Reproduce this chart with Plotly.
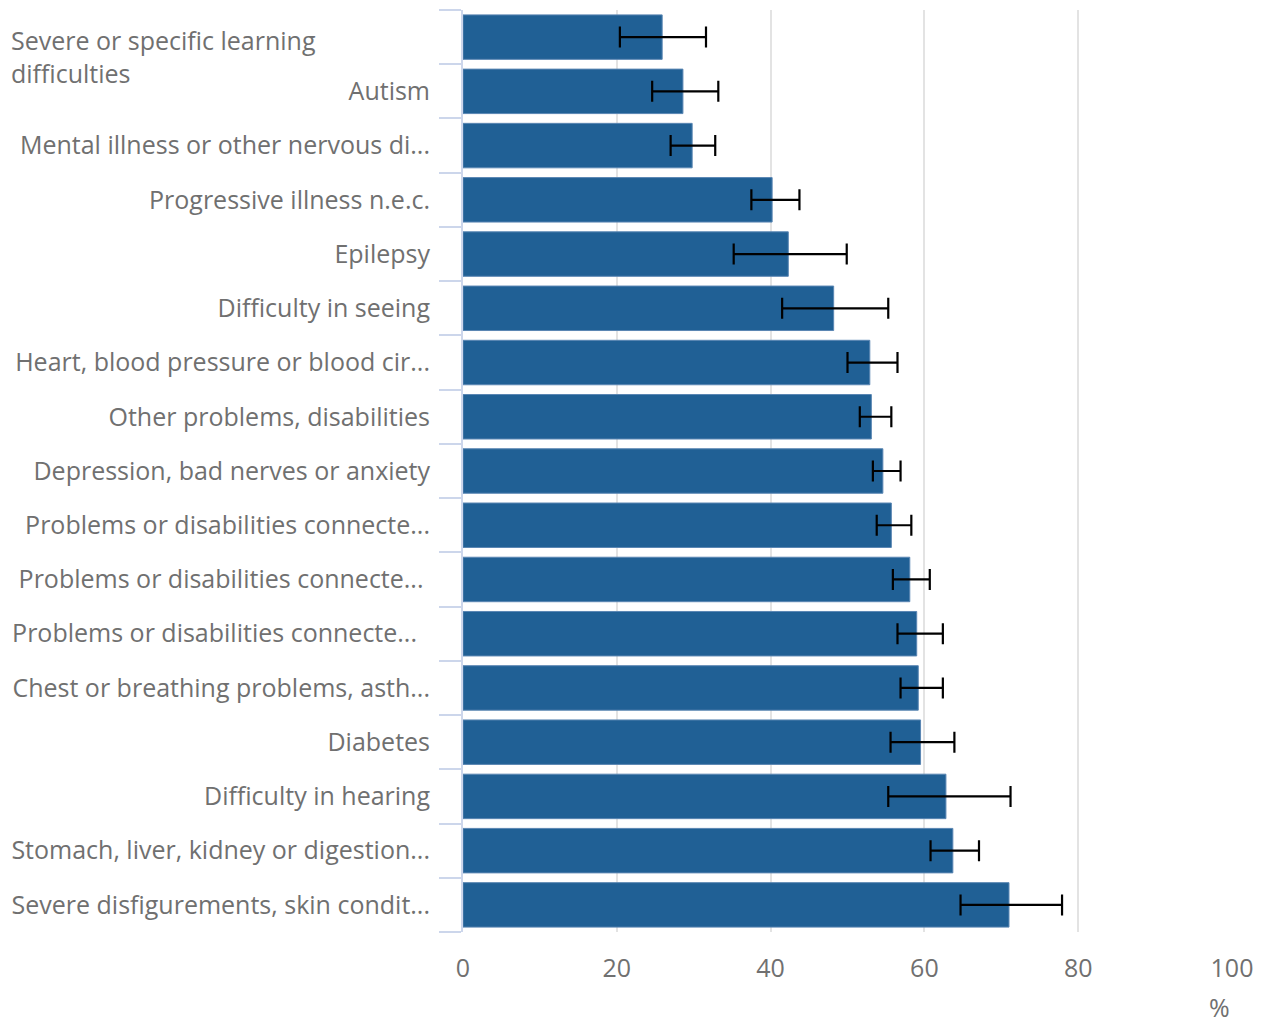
import plotly.graph_objects as go

categories = [
    "Severe or specific learning difficulties",
    "Autism",
    "Mental illness or other nervous di...",
    "Progressive illness n.e.c.",
    "Epilepsy",
    "Difficulty in seeing",
    "Heart, blood pressure or blood cir...",
    "Other problems, disabilities",
    "Depression, bad nerves or anxiety",
    "Problems or disabilities connecte...",
    "Problems or disabilities connecte... ",
    "Problems or disabilities connecte...  ",
    "Chest or breathing problems, asth...",
    "Diabetes",
    "Difficulty in hearing",
    "Stomach, liver, kidney or digestion...",
    "Severe disfigurements, skin condit...",
]
values = [25.9, 28.6, 29.8, 40.2, 42.3, 48.2, 52.9, 53.1, 54.6, 55.7, 58.1, 59.0, 59.2, 59.5, 62.8, 63.7, 71.0]
lower = [20.4, 24.6, 27.0, 37.5, 35.2, 41.5, 50.0, 51.6, 53.3, 53.8, 55.9, 56.5, 56.9, 55.6, 55.3, 60.8, 64.7]
upper = [31.6, 33.2, 32.8, 43.75, 49.9, 55.3, 56.5, 55.7, 56.9, 58.3, 60.7, 62.4, 62.4, 63.9, 71.2, 67.1, 77.9]
x_ticks = [0, 20, 40, 60, 80, 100]

err_plus = [u - v for u, v in zip(upper, values)]
err_minus = [v - l for v, l in zip(values, lower)]

ticktext = [""] + categories[1:]
FS = 25
GRAY = "#707070"

fig = go.Figure(go.Bar(
    x=values, y=categories, orientation="h",
    marker=dict(color="#206095", line=dict(color="#5a86b3", width=1)),
    error_x=dict(type="data", symmetric=False, array=err_plus, arrayminus=err_minus,
                 color="black", thickness=2.2, width=10.5),
))

n = len(categories)
fig.update_layout(
    width=1253, height=1015,
    margin=dict(l=455, r=29, t=2, b=91),
    paper_bgcolor="white", plot_bgcolor="white",
    font=dict(family="Open Sans", size=FS, color=GRAY),
    bargap=0.18,
    showlegend=False,
    xaxis=dict(range=[0, 100], tickvals=x_ticks, showgrid=True, gridcolor="#e3e3e3",
               gridwidth=2, zeroline=False, showline=False, ticks="outside",
               ticklen=14, tickcolor="rgba(0,0,0,0)", fixedrange=True),
    yaxis=dict(range=[n - 0.5, -0.5], tickvals=categories, ticktext=ticktext,
               showline=True, linecolor="#ccd6eb", linewidth=2,
               ticks="outside", ticklen=22, tickcolor="#ccd6eb", tickwidth=2,
               tickson="boundaries", showgrid=False, ticklabelstandoff=26),
)

fig.add_annotation(text="Severe or specific learning<br>difficulties", xref="paper", yref="y",
                   x=-0.59, y=categories[0], xanchor="left", yanchor="top", align="left",
                   yshift=16, showarrow=False, font=dict(size=FS, color=GRAY))
fig.add_annotation(text="%", xref="paper", yref="paper", x=0.984, y=0, yshift=-75,
                   xanchor="center", yanchor="middle", showarrow=False,
                   font=dict(size=FS, color=GRAY))

fig.write_html("out.html")
